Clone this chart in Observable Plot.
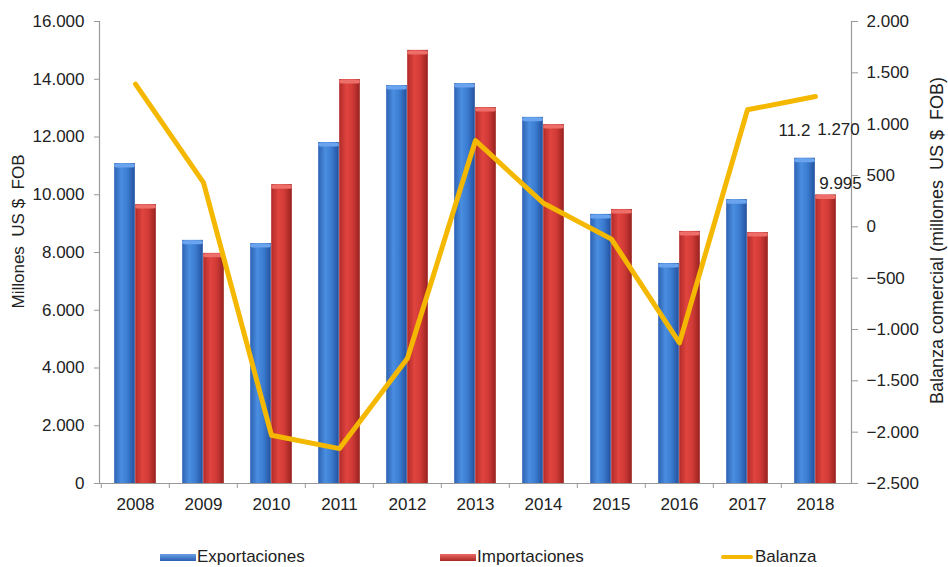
<!DOCTYPE html>
<html>
<head>
<meta charset="utf-8">
<script src="https://cdn.jsdelivr.net/npm/d3@7"></script>
<script src="https://cdn.jsdelivr.net/npm/@observablehq/plot@0.6"></script>
<style>
  html, body { margin: 0; padding: 0; background: #fff; }
  #wrap { position: relative; width: 948px; height: 567px; font-family: "Liberation Sans", Arial, sans-serif; }
  #legend { position: absolute; left: 0; top: 546px; width: 948px; height: 22px; font-size: 17px; color: #222; }
  .item { position: absolute; top: 0; display: flex; align-items: center; height: 22px; white-space: pre; }
  .sw { display: inline-block; width: 36px; height: 7px; margin-right: 1px; }
  .ln { display: inline-block; width: 32px; height: 4px; margin-right: 2px; background: #F5B800; border-radius: 2px; }
  svg text { white-space: pre; }
</style>
</head>
<body>
<div id="wrap">
  <div id="chart"></div>
  <div id="legend"></div>
</div>
<script>
const years = ["2008","2009","2010","2011","2012","2013","2014","2015","2016","2017","2018"];
const exportaciones = [11080, 8420, 8310, 11810, 13780, 13850, 12680, 9320, 7620, 9830, 11265];
const importaciones = [9660, 7970, 10350, 13990, 15000, 13020, 12430, 9490, 8730, 8690, 9995];
const balanza = [1390, 430, -2030, -2160, -1280, 840, 230, -120, -1130, 1140, 1270];
const leftTicks = [0, 2000, 4000, 6000, 8000, 10000, 12000, 14000, 16000];
const rightTicks = [-2500, -2000, -1500, -1000, -500, 0, 500, 1000, 1500, 2000];
const seriesNames = ["Exportaciones", "Importaciones", "Balanza"];
const leftTitle = "Millones  US $  FOB";
const rightTitle = "Balanza comercial (millones  US $  FOB)";

const locale = d3.formatLocale({decimal: ",", thousands: ".", grouping: [3], currency: ["$", ""]});
const fmt = locale.format(",d");

const W = 948, H = 520, mL = 99, mR = 97, mT = 21, mB = 37;
const step = (W - mL - mR) / years.length;
const barW = 21;
const outer = (step - 2 * barW) / 2;
const plotH = H - mT - mB;

const toLeft = d3.scaleLinear([-2500, 2000], [0, 16000]);

const rows = years.map((y, i) => ({year: y, exp: exportaciones[i], imp: importaciones[i], bal: toLeft(balanza[i]), balRaw: balanza[i]}));
const last = rows[rows.length - 1];

const font = '"Liberation Sans", Arial, sans-serif';

const chart = Plot.plot({
  width: W, height: H,
  marginLeft: mL, marginRight: mR, marginTop: mT, marginBottom: mB,
  style: {fontFamily: font, fontSize: "17px", color: "#222", background: "#fff"},
  x: {type: "band", domain: years, padding: 0, axis: null, label: null},
  y: {domain: [0, 16000], axis: null, label: null},
  marks: [
    Plot.barY(rows, {x: "year", y: "exp", fill: "url(#gBlue)", insetLeft: outer, insetRight: outer + barW}),
    Plot.barY(rows, {x: "year", y: "imp", fill: "url(#gRed)", insetLeft: outer + barW, insetRight: outer}),
    Plot.tickY(rows, {x: "year", y: "exp", stroke: "#6aa4ee", strokeWidth: 4, dy: 2, insetLeft: outer + 2, insetRight: outer + barW + 2, strokeLinecap: "round"}),
    Plot.tickY(rows, {x: "year", y: "imp", stroke: "#ee6e6a", strokeWidth: 4, dy: 2, insetLeft: outer + barW + 2, insetRight: outer + 2, strokeLinecap: "round"}),
    Plot.line(rows, {x: "year", y: "bal", stroke: "#F5B800", strokeWidth: 5, strokeLinejoin: "round"}),
    Plot.ruleY([0], {stroke: "#999", strokeWidth: 1.2}),
    Plot.frame({anchor: "left", stroke: "#999", strokeWidth: 1.2}),
    Plot.frame({anchor: "right", stroke: "#999", strokeWidth: 1.2}),
    Plot.ruleX(years, {x: d => d, dx: -step / 2, insetTop: plotH, insetBottom: -5, stroke: "#999"}),
    Plot.axisX(years, {tickSize: 0, tickPadding: 14, fill: "#222", label: null}),
    Plot.axisY(leftTicks, {anchor: "left", tickSize: 5, tickPadding: 10, stroke: "#999", fill: "#222", tickFormat: fmt, label: null}),
    Plot.axisY(rightTicks.map(toLeft), {anchor: "right", tickSize: 6, tickPadding: 9, stroke: "#999", fill: "#222", tickFormat: v => fmt(Math.round(toLeft.invert(v))), label: null}),
    Plot.text([leftTitle], {frameAnchor: "left", textAnchor: "middle", dx: -81, dy: -21, rotate: -90, fill: "#222", fontSize: 17}),
    Plot.text([rightTitle], {frameAnchor: "right", textAnchor: "middle", dx: 86, dy: -12, rotate: -90, fill: "#222", fontSize: 18}),
    Plot.text([last], {x: "year", y: "exp", text: d => "11.2", dx: -21, dy: -28, fill: "#222"}),
    Plot.text([last], {x: "year", y: "bal", text: d => fmt(d.balRaw), dx: 23, dy: 33, fill: "#222"}),
    Plot.text([last], {x: "year", y: "imp", text: d => fmt(d.imp), dx: 25, dy: -11, fill: "#222"})
  ]
});

const ns = "http://www.w3.org/2000/svg";
const svg = chart.tagName.toLowerCase() === "svg" ? chart : chart.querySelector("svg");
const defs = document.createElementNS(ns, "defs");
function grad(id, stops) {
  const g = document.createElementNS(ns, "linearGradient");
  g.setAttribute("id", id);
  g.setAttribute("x1", "0"); g.setAttribute("x2", "1"); g.setAttribute("y1", "0"); g.setAttribute("y2", "0");
  for (const [o, c] of stops) {
    const s = document.createElementNS(ns, "stop");
    s.setAttribute("offset", o); s.setAttribute("stop-color", c);
    g.appendChild(s);
  }
  defs.appendChild(g);
}
grad("gBlue", [["0", "#2d62b4"], ["0.35", "#4a8ee0"], ["0.65", "#3a7bd0"], ["1", "#24509c"]]);
grad("gRed", [["0", "#b02a28"], ["0.35", "#e0443f"], ["0.65", "#d03a36"], ["1", "#98221f"]]);
svg.insertBefore(defs, svg.firstChild);

document.getElementById("chart").appendChild(chart);

const legend = document.getElementById("legend");
const items = [
  {name: seriesNames[0], left: 160, html: '<span class="sw" style="background:linear-gradient(#6aa0e8,#2a5eb0)"></span>'},
  {name: seriesNames[1], left: 440, html: '<span class="sw" style="background:linear-gradient(#ec6a66,#a82824)"></span>'},
  {name: seriesNames[2], left: 721, html: '<span class="ln"></span>'}
];
for (const it of items) {
  const d = document.createElement("div");
  d.className = "item";
  d.style.left = it.left + "px";
  d.innerHTML = it.html + "<span>" + it.name + "</span>";
  legend.appendChild(d);
}
</script>
</body>
</html>
